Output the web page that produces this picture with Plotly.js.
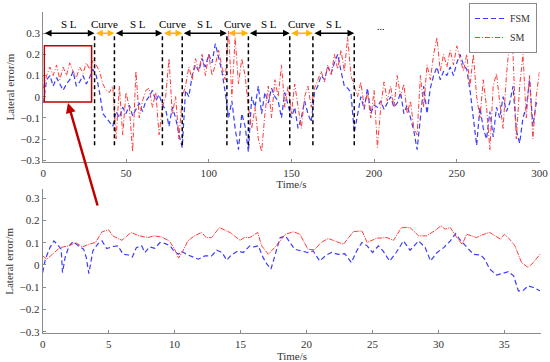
<!DOCTYPE html>
<html><head><meta charset="utf-8">
<script src="https://cdn.plot.ly/plotly-3.0.1.min.js"></script>
<style>html,body{margin:0;padding:0;background:#fff}</style>
</head><body><div id="chart" style="width:550px;height:362px"></div>
<script>
// ---- Top panel: full run (0-300 s) ----
const topTime = [0,2,4,6,8,10,12,14,16,18,20,22,24,26,28,30,32,34,36,38,40,42,44,46,48,50,52,54,56,58,60,62,64,66,68,70,72,74,76,78,80,82,84,86,88,90,92,94,96,98,100,102,104,106,108,110,112,114,116,118,120,122,124,126,128,130,132,134,136,138,140,142,144,146,148,150,152,154,156,158,160,162,164,166,168,170,172,174,176,178,180,182,184,186,188,190,192,194,196,198,200,202,204,206,208,210,212,214,216,218,220,222,224,226,228,230,232,234,236,238,240,242,244,246,248,250,252,254,256,258,260,262,264,266,268,270,272,274,276,278,280,282,284,286,288,290,292,294,296,298,300];
const topFSM = [-0.03,0.08,0.1,0.05,0.09,0.06,0.03,0.06,0.08,0.12,0.05,0.07,0.1,0.06,0.09,0.13,0.1,0.02,-0.08,-0.1,-0.12,-0.14,-0.07,-0.1,-0.05,-0.08,-0.04,-0.09,-0.06,-0.03,-0.07,-0.02,0.0,0.03,-0.02,0.01,-0.04,-0.06,-0.14,-0.05,-0.1,-0.18,-0.24,0.03,0.0,0.1,0.15,0.12,0.18,0.14,0.2,0.16,0.25,0.18,0.12,0.02,-0.1,-0.02,-0.15,-0.25,-0.08,-0.14,-0.26,0.0,-0.05,0.05,-0.08,0.02,-0.03,0.04,0.0,-0.02,-0.1,0.02,-0.04,-0.1,-0.05,-0.15,-0.1,-0.02,-0.08,-0.12,0.02,0.05,0.1,0.08,0.14,0.11,0.16,0.2,0.12,0.05,0.04,0.02,-0.17,-0.08,0.0,-0.06,0.04,-0.08,-0.04,-0.05,-0.02,-0.06,-0.03,0.0,-0.05,-0.03,0.02,-0.08,-0.04,-0.1,-0.16,-0.25,-0.1,0.05,-0.08,0.04,0.1,0.14,0.08,0.12,0.1,0.14,0.1,0.16,0.2,0.15,0.13,0.03,-0.1,-0.23,-0.05,-0.15,-0.2,-0.07,-0.19,-0.05,-0.1,0.0,-0.07,-0.03,0.05,-0.16,-0.22,-0.1,-0.05,0.08,-0.14,-0.03,-0.04];
const topSM = [0.04,0.1,0.14,0.1,0.15,0.08,0.14,0.1,0.16,0.12,0.09,0.14,0.11,0.16,0.13,0.17,0.15,0.12,0.06,0.03,0.02,0.05,-0.2,0.05,-0.18,0.02,-0.05,-0.26,0.12,-0.1,-0.02,0.03,0.04,-0.05,0.02,-0.18,-0.05,0.0,0.18,-0.08,0.0,-0.2,0.0,0.05,0.14,0.08,0.18,0.12,0.2,0.1,0.2,0.1,0.15,0.22,0.14,0.08,0.31,0.0,0.28,0.06,0.18,0.1,-0.05,-0.15,-0.05,-0.2,-0.26,-0.08,0.05,-0.1,0.08,0.0,0.15,-0.05,0.05,-0.08,0.06,-0.05,-0.15,0.0,0.05,-0.05,0.04,0.08,0.12,0.07,0.15,0.1,0.2,0.13,0.22,0.12,0.28,0.1,0.05,0.0,0.07,-0.05,0.02,-0.1,0.03,-0.24,-0.05,0.07,-0.02,0.05,-0.05,0.1,0.0,0.06,-0.08,-0.02,-0.15,-0.18,0.1,-0.05,0.15,0.08,0.2,0.28,0.12,0.2,0.14,0.22,0.15,0.24,0.18,0.12,0.2,0.05,0.2,0.0,-0.1,0.08,-0.05,-0.25,0.05,0.11,-0.03,-0.15,0.1,0.27,0.2,-0.2,0.05,0.2,-0.1,0.1,-0.2,0.0,0.12];

// ---- Bottom panel: zoom on first 38 s ----
const zoomTimeFSM = [0,0.2,0.55,0.85,1.2,1.4,1.5,1.7,2,2.3,2.7,3.1,3.3,3.5,3.8,4.2,4.5,4.85,5.35,5.7,6.1,6.5,6.8,7.1,7.5,7.75,8.1,8.5,8.9,9.3,9.65,9.95,10.3,10.5,10.9,11.4,11.8,12.3,12.8,13.2,13.6,13.95,14.3,14.8,15.2,15.7,16,16.35,16.7,17,17.3,17.6,18,18.4,18.75,19.1,19.6,20.1,20.5,21,21.5,21.9,22.4,22.9,23.4,23.8,24.2,24.6,25,25.45,25.8,26.3,26.8,27.35,27.85,28.5,29,29.4,29.9,30.4,30.9,31.3,31.6,32.15,32.65,33.2,33.5,33.9,34.4,34.8,35.3,35.7,36.06,36.4,36.8,37.2,37.7];
const zoomFSM = [-0.034,0.026,0.078,0.108,0.086,0.071,-0.034,0.034,0.086,0.105,0.086,0.071,0.034,-0.039,0.063,0.096,0.108,0.074,0.083,0.086,0.048,0.045,0.036,0.078,0.086,0.056,0.081,0.075,0.101,0.096,0.086,0.063,0.048,0.063,0.048,0.036,0.026,0.041,0.041,0.066,0.056,0.021,0.045,0.063,0.056,0.086,0.081,0.086,0.034,0.004,-0.019,0.041,0.123,0.131,0.101,0.071,0.063,0.056,0.063,0.018,0.045,0.056,0.048,0.051,0.011,0.063,0.101,0.086,0.056,0.086,0.063,0.018,0.056,0.108,0.066,0.108,0.078,0.018,0.056,0.078,0.108,0.141,0.116,0.078,0.048,0.045,0.026,-0.019,-0.045,-0.039,-0.030,-0.049,-0.116,-0.116,-0.094,-0.101,-0.116];
const zoomTimeSM = [0,0.3,0.6,1.3,2,2.5,3,3.5,4,4.5,5,5.3,6,6.7,7.3,8,8.4,9,9.6,10,10.3,10.7,11,11.5,12.05,12.4,12.8,13.4,14.2,14.96,15.3,15.7,16.3,16.6,17.1,17.7,18.4,19,19.5,20.1,20.6,21.1,21.65,22.2,22.8,23.55,24.2,24.6,25.3,26.1,26.6,27.2,27.85,28.5,29.1,29.7,30.2,30.5,30.9,31.4,31.8,32.15,32.9,33.3,33.9,34.7,35,35.4,35.8,36.3,36.8,37.2,37.7];
const zoomSM = [0.041,0.026,0.041,0.078,0.086,0.101,0.081,0.093,0.101,0.149,0.158,0.131,0.111,0.146,0.131,0.123,0.131,0.126,0.108,0.071,0.031,0.071,0.108,0.131,0.146,0.123,0.123,0.168,0.146,0.111,0.123,0.123,0.146,0.086,0.048,0.086,0.138,0.149,0.138,0.071,0.068,0.101,0.119,0.108,0.093,0.150,0.153,0.101,0.120,0.123,0.111,0.168,0.168,0.131,0.131,0.153,0.176,0.161,0.168,0.123,0.093,0.138,0.123,0.135,0.146,0.116,0.138,0.116,0.086,0.011,-0.011,0.011,0.048];

// ---- Road segments annotated on the top panel ----
const segStart = [0,31,43,72,84,111,124,149,163];
const segEnd   = [31,43,72,84,111,124,149,163,188];
const segLabel = ['S L','Curve','S L','Curve','S L','Curve','S L','Curve','S L'];
const zoomBox = {t0: 0.6, t1: 29.2, e0: -0.025, e1: 0.24};

const FONT = 'Liberation Serif, Times New Roman, serif';
const blue = 'rgb(60,60,255)';
const red = 'rgb(255,60,60)';
const TXT = '#333';

const traces = [
  {x: topTime, y: topFSM, name: 'FSM', type: 'scatter', mode: 'lines', xaxis: 'x', yaxis: 'y',
   line: {color: blue, width: 1.2, dash: '5px,3px'}},
  {x: topTime, y: topSM, name: 'SM', type: 'scatter', mode: 'lines', xaxis: 'x', yaxis: 'y',
   line: {color: red, width: 1, dash: '5px,2px,1px,2px'}},
  {x: zoomTimeFSM, y: zoomFSM, name: 'FSM', type: 'scatter', mode: 'lines', xaxis: 'x2', yaxis: 'y2',
   line: {color: blue, width: 1.2, dash: '5px,3px'}, showlegend: false},
  {x: zoomTimeSM, y: zoomSM, name: 'SM', type: 'scatter', mode: 'lines', xaxis: 'x2', yaxis: 'y2',
   line: {color: red, width: 1, dash: '5px,1px,1px,1px'}, showlegend: false}
];

const axisCommon = {
  showgrid: false, zeroline: false, showline: true, linecolor: '#8a8a8a', linewidth: 1,
  ticks: 'inside', ticklen: 3, tickcolor: '#8a8a8a', mirror: false,
  tickfont: {family: FONT, size: 11, color: TXT}
};
const titleFont = {family: FONT, size: 11, color: TXT};

const shapes = [];
const annotations = [];
for (let i = 0; i < segStart.length; i++) {
  const isCurve = segLabel[i] === 'Curve';
  shapes.push({type: 'line', xref: 'x', yref: 'y', x0: segEnd[i], x1: segEnd[i], y0: -0.23, y1: 0.3,
    line: {color: '#000', width: 1.5, dash: '4px,3px'}});
  annotations.push({xref: 'x', yref: 'y', axref: 'x', ayref: 'y', x: segEnd[i], y: 0.3, ax: segStart[i], ay: 0.3,
    text: '', showarrow: true, arrowside: 'end+start', arrowhead: 2, arrowsize: 0.9, arrowwidth: 1.5,
    arrowcolor: isCurve ? 'rgb(255,180,0)' : '#000'});
  annotations.push({xref: 'x', yref: 'y', x: (segStart[i] + segEnd[i]) / 2, y: 0.3, yanchor: 'bottom', yshift: 1,
    text: segLabel[i], showarrow: false, font: {family: FONT, size: 11, color: '#000'}});
}
annotations.push({xref: 'x', yref: 'y', x: 204, y: 0.3, yanchor: 'bottom', yshift: -1, text: '...', showarrow: false,
  font: {family: FONT, size: 10, color: '#000'}});
shapes.push({type: 'rect', xref: 'x', yref: 'y', x0: zoomBox.t0, x1: zoomBox.t1, y0: zoomBox.e0, y1: zoomBox.e1,
  line: {color: '#c00000', width: 1.5}});
annotations.push({xref: 'paper', yref: 'paper', x: 68/550, y: 1 - 103/362, axref: 'pixel', ayref: 'pixel',
  ax: 30, ay: 104, text: '', showarrow: true, arrowhead: 2, arrowsize: 0.8, arrowwidth: 2.5, arrowcolor: '#c00000'});

const layout = {
  width: 550, height: 362,
  margin: {l: 0, r: 0, t: 0, b: 0},
  paper_bgcolor: '#fff', plot_bgcolor: '#fff',
  font: {family: FONT, size: 11, color: TXT},
  showlegend: true,
  legend: {x: 537/550, xanchor: 'right', y: 1 - 3/362, yanchor: 'top', bgcolor: '#fff',
    bordercolor: '#8a8a8a', borderwidth: 1, font: {family: FONT, size: 10, color: TXT},
    itemwidth: 30, tracegroupgap: 0},
  xaxis: Object.assign({}, axisCommon, {domain: [43.3/550, 539.5/550], range: [0, 300], anchor: 'y',
    tickvals: [0,50,100,150,200,250,300],
    title: {text: 'Time/s', standoff: 2, font: titleFont}}),
  yaxis: Object.assign({}, axisCommon, {domain: [1 - 162.3/362, 1 - 12/362], range: [-0.31, 0.4], anchor: 'x',
    tickvals: [-0.3,-0.2,-0.1,0,0.1,0.2,0.3],
    title: {text: 'Lateral error/m', standoff: 3, font: titleFont}}),
  xaxis2: Object.assign({}, axisCommon, {domain: [42.7/550, 541.3/550], range: [0, 37.8], anchor: 'y2',
    tickvals: [0,5,10,15,20,25,30,35],
    title: {text: 'Time/s', standoff: 3, font: titleFont}}),
  yaxis2: Object.assign({}, axisCommon, {domain: [1 - 333.3/362, 1 - 189.3/362], range: [-0.307, 0.34], anchor: 'x2',
    tickvals: [-0.3,-0.2,-0.1,0,0.1,0.2,0.3],
    title: {text: 'Lateral error/m', standoff: 3, font: titleFont}}),
  shapes: shapes,
  annotations: annotations
};

Plotly.newPlot('chart', traces, layout, {displayModeBar: false, staticPlot: true});
</script>
</body></html>
